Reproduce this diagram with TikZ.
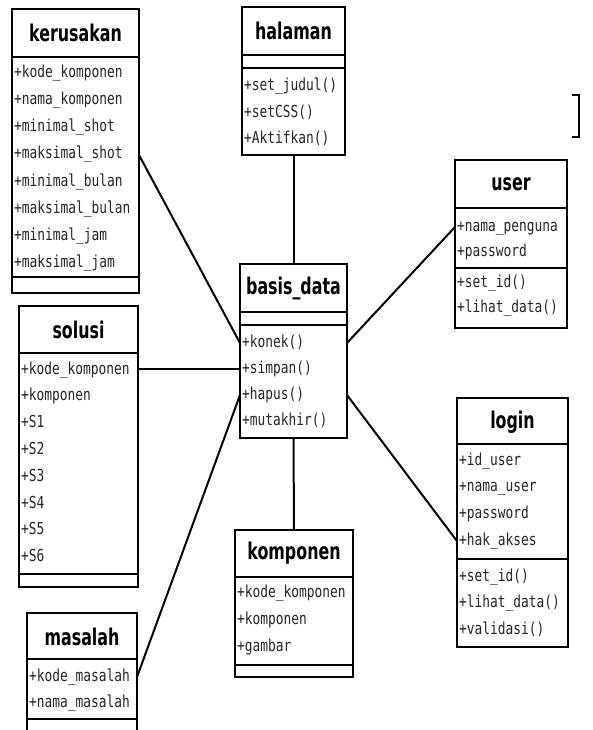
\documentclass[tikz,border=0pt]{standalone}
\usepackage{fontspec}
\newfontfamily\titlefont[FakeStretch=0.69]{DejaVu Sans}
\newfontfamily\memberfont[FakeStretch=0.78]{DejaVu Sans Mono}
\usetikzlibrary{calc}

\tikzset{
  classbox/.style={draw, line width=2pt, fill=white, inner sep=0pt, outer sep=0pt, anchor=north west},
  classtitle/.style={font=\titlefont\bfseries\fontsize{23}{23}\selectfont, inner sep=0pt},
  member/.style={font=\memberfont\fontsize{16.5}{16.5}\selectfont, text=black!85, anchor=west,
                 inner sep=0pt, text height=12pt, text depth=4pt},
  divider/.style={line width=2.5pt},
  link/.style={line width=2pt},
}

\begin{document}
\begin{tikzpicture}[x=1pt,y=-1pt]
\useasboundingbox (0,0) rectangle (593,730);

% ---------- kerusakan ----------
\node[classbox, minimum width=127pt, minimum height=284pt] (ker) at (12,9) {};
\node[classtitle] (ker-t) at (75.5,33) {kerusakan};
\draw[divider] (ker.west |- 0,57) -- (ker.east |- 0,57);
\draw[divider] (ker.west |- 0,277) -- (ker.east |- 0,277);
\foreach \txt [count=\i] in {kode\_komponen,nama\_komponen,minimal\_shot,maksimal\_shot,
    minimal\_bulan,maksimal\_bulan,minimal\_jam,maksimal\_jam}
  \node[member] (ker-a\i) at (14,{74+27*(\i-1)}) {+\txt};

% ---------- halaman ----------
\node[classbox, minimum width=103pt, minimum height=148pt] (hal) at (242,7) {};
\node[classtitle] (hal-t) at (293.5,31) {halaman};
\draw[divider] (hal.west |- 0,55) -- (hal.east |- 0,55);
\draw[divider] (hal.west |- 0,68) -- (hal.east |- 0,68);
\foreach \txt [count=\i] in {set\_judul(),setCSS(),Aktifkan()}
  \node[member] (hal-m\i) at (244,{87+26.5*(\i-1)}) {+\txt};

% ---------- user ----------
\node[classbox, minimum width=112pt, minimum height=168pt] (usr) at (455,160) {};
\node[classtitle] (usr-t) at (511,184) {user};
\draw[divider] (usr.west |- 0,208) -- (usr.east |- 0,208);
\draw[divider] (usr.west |- 0,268) -- (usr.east |- 0,268);
\foreach \txt [count=\i] in {nama\_penguna,password}
  \node[member] (usr-a\i) at (457,{227+25*(\i-1)}) {+\txt};
\foreach \txt [count=\i] in {set\_id(),lihat\_data()}
  \node[member] (usr-m\i) at (457,{283+25*(\i-1)}) {+\txt};

% ---------- basis_data ----------
\node[classbox, minimum width=107pt, minimum height=174pt] (bd) at (240,264) {};
\node[classtitle] (bd-t) at (293.5,288) {basis\_data};
\draw[divider] (bd.west |- 0,312) -- (bd.east |- 0,312);
\draw[divider] (bd.west |- 0,325) -- (bd.east |- 0,325);
\foreach \txt [count=\i] in {konek(),simpan(),hapus(),mutakhir()}
  \node[member] (bd-m\i) at (242,{343+26*(\i-1)}) {+\txt};

% ---------- solusi ----------
\node[classbox, minimum width=119pt, minimum height=281pt] (sol) at (19,306) {};
\node[classtitle] (sol-t) at (78.5,330) {solusi};
\draw[divider] (sol.west |- 0,353) -- (sol.east |- 0,353);
\draw[divider] (sol.west |- 0,574) -- (sol.east |- 0,574);
\foreach \txt [count=\i] in {kode\_komponen,komponen,S1,S2,S3,S4,S5,S6}
  \node[member] (sol-a\i) at (21,{370+26.8*(\i-1)}) {+\txt};

% ---------- login ----------
\node[classbox, minimum width=111pt, minimum height=249pt] (log) at (457,398) {};
\node[classtitle] (log-t) at (512.5,422) {login};
\draw[divider] (log.west |- 0,444) -- (log.east |- 0,444);
\draw[divider] (log.west |- 0,559) -- (log.east |- 0,559);
\foreach \txt [count=\i] in {id\_user,nama\_user,password,hak\_akses}
  \node[member] (log-a\i) at (459,{461+26.7*(\i-1)}) {+\txt};
\foreach \txt [count=\i] in {set\_id(),lihat\_data(),validasi()}
  \node[member] (log-m\i) at (459,{577+26.5*(\i-1)}) {+\txt};

% ---------- komponen ----------
\node[classbox, minimum width=118pt, minimum height=147pt] (kmp) at (235,530) {};
\node[classtitle] (kmp-t) at (294,553) {komponen};
\draw[divider] (kmp.west |- 0,577) -- (kmp.east |- 0,577);
\draw[divider] (kmp.west |- 0,665) -- (kmp.east |- 0,665);
\foreach \txt [count=\i] in {kode\_komponen,komponen,gambar}
  \node[member] (kmp-a\i) at (237,{593+27*(\i-1)}) {+\txt};

% ---------- masalah ----------
\node[classbox, minimum width=110pt, minimum height=135pt] (mas) at (27,613) {};
\node[classtitle] (mas-t) at (82,637) {masalah};
\draw[divider] (mas.west |- 0,659) -- (mas.east |- 0,659);
\draw[divider] (mas.west |- 0,719) -- (mas.east |- 0,719);
\foreach \txt [count=\i] in {kode\_masalah,nama\_masalah}
  \node[member] (mas-a\i) at (29,{677+26*(\i-1)}) {+\txt};

% ---------- associations ----------
\draw[link] (ker.east |- ker-a4) -- (bd.west |- bd-m1);
\draw[link] (hal.south) -- (bd.north);
\draw[link] (usr.west |- usr-a1) -- (bd.east |- bd-m1);
\draw[link] (sol.east |- bd-m2) -- (bd.west |- bd-m2);
\draw[link] (mas.east |- mas-a1) -- (bd.west |- bd-m3);
\draw[link] (bd.east |- bd-m3) -- (log.west |- log-a4);
\draw[link] (bd.south) -- (kmp.north);

% ---------- bracket at the upper right ----------
\draw[line width=2pt] (572,95) -- (579,95) -- (579,137) -- (572,137);
\end{tikzpicture}
\end{document}
